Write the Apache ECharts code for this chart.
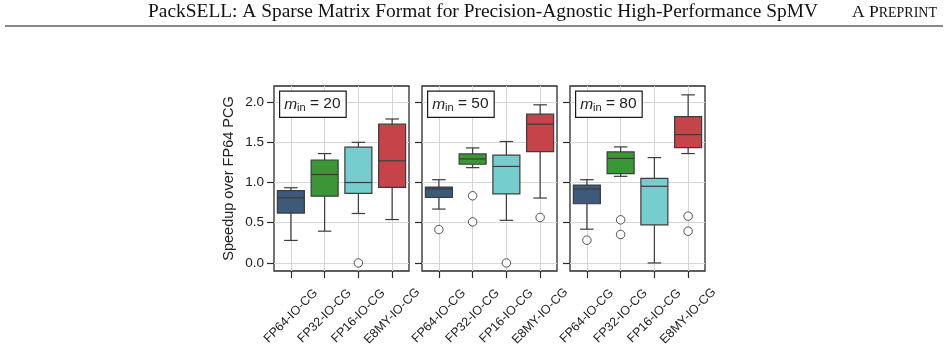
<!DOCTYPE html>
<html lang="en">
<head>
  <meta charset="utf-8">
  <title>PackSELL speedup boxplots</title>
  <script src="https://cdn.jsdelivr.net/npm/echarts@6/dist/echarts.min.js"></script>
  <style>
    html, body { margin: 0; padding: 0; background: #fff; }
    #chart { width: 948px; height: 359px; }
  </style>
</head>
<body>
  <div id="chart"></div>
  <script>
    // categories and tick labels
    var categories = ['FP64-IO-CG', 'FP32-IO-CG', 'FP16-IO-CG', 'E8MY-IO-CG'];
    var panelMin = ['20', '50', '80'];
    var yTicks = [0, 0.5, 1, 1.5, 2];
    var xTicks = [0, 1, 2, 3];

    // each box: [lower whisker, Q1, median, Q3, upper whisker]
    var boxes20 = [[0.28, 0.62, 0.81, 0.90, 0.935], [0.395, 0.83, 1.10, 1.28, 1.36], [0.615, 0.865, 1.00, 1.44, 1.50], [0.54, 0.94, 1.27, 1.725, 1.79]];
    var boxes50 = [[0.67, 0.815, 0.92, 0.944, 1.035], [1.185, 1.227, 1.293, 1.355, 1.43], [0.53, 0.86, 1.20, 1.34, 1.51], [0.807, 1.385, 1.725, 1.85, 1.966]];
    var boxes80 = [[0.42, 0.736, 0.919, 0.969, 1.035], [1.077, 1.11, 1.30, 1.38, 1.443], [0.0, 0.474, 0.953, 1.052, 1.31], [1.36, 1.434, 1.596, 1.82, 2.09]];

    // outliers: [category index, value]
    var outliers20 = [[2, 0.0]];
    var outliers50 = [[0, 0.415], [1, 0.835], [1, 0.51], [2, 0.0], [3, 0.566]];
    var outliers80 = [[0, 0.283], [1, 0.536], [1, 0.354], [3, 0.582], [3, 0.395]];

    var boxColors = ['#3e5a7b', '#3a9637', '#76cdcd', '#c6434a'];
    var edge = '#3c3c3c';
    var font = 'Liberation Sans';

    var allBoxes = [boxes20, boxes50, boxes80];
    var allOutliers = [outliers20, outliers50, outliers80];
    var gridLeft = [274, 422, 570];

    var chart = echarts.init(document.getElementById('chart'));

    // draw a matplotlib style box (half width caps)
    function renderBox(params, api) {
      var x = api.value(0);
      var lo = api.coord([x, api.value(1)]);
      var q1 = api.coord([x, api.value(2)]);
      var med = api.coord([x, api.value(3)]);
      var q3 = api.coord([x, api.value(4)]);
      var hi = api.coord([x, api.value(5)]);
      var band = api.size([1, 0])[0];
      var hb = band * 0.4;
      var hc = hb / 2;
      var cx = lo[0];
      var ls = { stroke: edge, lineWidth: 1.2 };
      return {
        type: 'group',
        children: [
          { type: 'line', shape: { x1: cx, y1: lo[1], x2: cx, y2: q1[1] }, style: ls },
          { type: 'line', shape: { x1: cx, y1: q3[1], x2: cx, y2: hi[1] }, style: ls },
          { type: 'line', shape: { x1: cx - hc, y1: lo[1], x2: cx + hc, y2: lo[1] }, style: ls },
          { type: 'line', shape: { x1: cx - hc, y1: hi[1], x2: cx + hc, y2: hi[1] }, style: ls },
          { type: 'rect', shape: { x: cx - hb, y: q3[1], width: hb * 2, height: q1[1] - q3[1] },
            style: { fill: boxColors[x], stroke: edge, lineWidth: 1.2 } },
          { type: 'line', shape: { x1: cx - hb, y1: med[1], x2: cx + hb, y2: med[1] }, style: ls }
        ]
      };
    }

    var grids = [], xAxes = [], yAxes = [], series = [], graphics = [];

    for (var i = 0; i < 3; i++) {
      grids.push({
        left: gridLeft[i], top: 86, width: 135, height: 185,
        show: true, borderColor: '#2b2b2b', borderWidth: 1.3, backgroundColor: 'transparent'
      });
      xAxes.push({
        type: 'value', gridIndex: i, min: -0.5, max: 3.5,
        axisLine: { show: false, onZero: false },
        axisTick: { show: true, customValues: xTicks, length: 7, lineStyle: { color: '#2b2b2b', width: 1.2 } },
        axisLabel: {
          customValues: xTicks, rotate: 45, align: 'center', verticalAlign: 'middle', margin: 45,
          fontFamily: font, fontSize: 12.5, color: '#222',
          formatter: function (v) { return categories[Math.round(v)]; }
        },
        splitLine: { show: true, lineStyle: { color: '#d6d6d6', width: 1 } }
      });
      yAxes.push({
        type: 'value', gridIndex: i, min: -0.1, max: 2.2,
        name: i === 0 ? 'Speedup over FP64 PCG' : '',
        nameLocation: 'middle', nameGap: 38,
        nameTextStyle: { fontFamily: font, fontSize: 14.5, color: '#222' },
        axisLine: { show: false, onZero: false },
        axisTick: { show: true, customValues: yTicks, length: 7, lineStyle: { color: '#2b2b2b', width: 1.2 } },
        axisLabel: {
          show: i === 0, customValues: yTicks, margin: 10,
          fontFamily: font, fontSize: 13.5, color: '#222',
          formatter: function (v) { return v.toFixed(1); }
        },
        splitLine: { show: true, lineStyle: { color: '#d6d6d6', width: 1 } }
      });
      series.push({
        type: 'custom', xAxisIndex: i, yAxisIndex: i,
        renderItem: renderBox,
        encode: { x: 0, y: [1, 2, 3, 4, 5] },
        data: allBoxes[i].map(function (b, k) { return [k].concat(b); }),
        z: 3
      });
      series.push({
        type: 'scatter', xAxisIndex: i, yAxisIndex: i,
        symbol: 'circle', symbolSize: 8.5,
        itemStyle: { color: '#fff', borderColor: '#2b2b2b', borderWidth: 1 },
        data: allOutliers[i],
        clip: false,
        z: 4
      });
      graphics.push({
        type: 'text', left: gridLeft[i] + 5, top: 90.5, z: 10,
        style: {
          text: '{m|m}{s|in}{t| = ' + panelMin[i] + '}',
          backgroundColor: '#fff', borderColor: '#1a1a1a', borderWidth: 1.2,
          padding: [3, 5, 3, 4],
          rich: {
            m: { fontFamily: font, fontStyle: 'italic', fontSize: 15.5, fill: '#222' },
            s: { fontFamily: font, fontSize: 11, fill: '#222', padding: [8, 0, 0, 0] },
            t: { fontFamily: font, fontSize: 15.5, fill: '#222' }
          }
        }
      });
    }

    // page header of the paper
    graphics.push({
      type: 'text', right: 130, top: 2,
      style: { text: 'PackSELL: A Sparse Matrix Format for Precision-Agnostic High-Performance SpMV',
        fontFamily: 'Liberation Serif', fontSize: 19.4, fill: '#111' }
    });
    graphics.push({
      type: 'text', right: 11, top: 3,
      style: {
        text: '{a|A P}{b|REPRINT}',
        rich: {
          a: { fontFamily: 'Liberation Serif', fontSize: 17.5, fill: '#111' },
          b: { fontFamily: 'Liberation Serif', fontSize: 14, fill: '#111', padding: [2, 0, 0, 0] }
        }
      }
    });
    graphics.push({
      type: 'line', shape: { x1: 5, y1: 26, x2: 943, y2: 26 },
      style: { stroke: '#111', lineWidth: 1 }
    });

    var option = {
      backgroundColor: '#fff',
      animation: false,
      grid: grids,
      xAxis: xAxes,
      yAxis: yAxes,
      series: series,
      graphic: graphics
    };
    chart.setOption(option);
  </script>
</body>
</html>
